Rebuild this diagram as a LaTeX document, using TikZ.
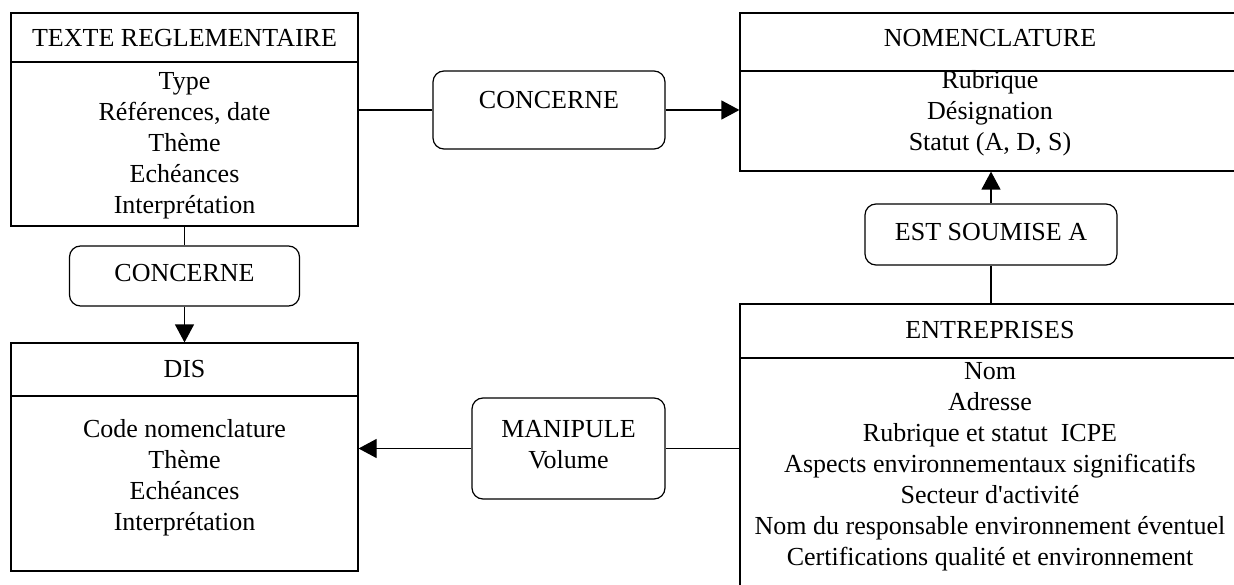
\documentclass[tikz,border=0pt]{standalone}
\usepackage{fontspec}
\setmainfont{Liberation Serif}
\usetikzlibrary{arrows.meta}
\begin{document}
\begin{tikzpicture}[x=1pt,y=-1pt,
  ent/.style={draw, line width=1.2pt, rectangle, inner sep=0pt},
  rel/.style={draw, line width=1.2pt, rounded corners=11pt, inner sep=0pt},
  txt/.style={align=center, inner sep=0pt, font=\fontsize{26}{31}\selectfont},
  conn/.style={line width=1.2pt},
  arr/.style={line width=1.2pt, -{Triangle[length=18pt,width=19pt]}}]
\useasboundingbox (0,0) rectangle (1234,585);
\clip (0,0) rectangle (1234,585);

% entity boxes
\node[ent, minimum width=347pt, minimum height=213pt] (texte) at (184.5,119.5) {};
\draw[conn] (texte.west |- 0,62) -- (texte.east |- 0,62);
\node[txt] (texteT) at (184.5,38) {TEXTE REGLEMENTAIRE};
\node[txt] (texteA) at (184.5,146) {Type\\Références, date\\Thème\\Echéances\\Interprétation};

\node[ent, minimum width=500pt, minimum height=158pt] (nomen) at (990,92) {};
\draw[conn] (nomen.west |- 0,71) -- (nomen.east |- 0,71);
\node[txt] (nomenT) at (990,38) {NOMENCLATURE};
\node[txt] (nomenA) at (990,113) {Rubrique\\Désignation\\Statut (A, D, S)};

\node[ent, minimum width=500pt, minimum height=340pt] (entr) at (990,474) {};
\draw[conn] (entr.west |- 0,358) -- (entr.east |- 0,358);
\node[txt] (entrT) at (990,330) {ENTREPRISES};
\node[txt] (entrA) at (990,466.5) {Nom\\Adresse\\Rubrique et statut\ \ ICPE\\Aspects environnementaux significatifs\\Secteur d\textquotesingle activité\\Nom du responsable environnement éventuel\\Certifications qualité et environnement};

\node[ent, minimum width=347pt, minimum height=228pt] (dis) at (184.5,457) {};
\draw[conn] (dis.west |- 0,396) -- (dis.east |- 0,396);
\node[txt] (disT) at (184.5,369) {DIS};
\node[txt] (disA) at (184.5,478) {Code nomenclature\\Thème\\Echéances\\Interprétation};

% relationship boxes
\node[rel, minimum width=232pt, minimum height=78pt] (c1) at (549,110) {};
\node[txt] (c1T) at (549,100) {CONCERNE};
\node[rel, minimum width=230pt, minimum height=60pt] (c2) at (184.5,276) {};
\node[txt] (c2T) at (184.5,273) {CONCERNE};
\node[rel, minimum width=252pt, minimum height=61pt] (soum) at (991,234.5) {};
\node[txt] (soumT) at (991,232) {EST SOUMISE A};
\node[rel, minimum width=193pt, minimum height=101pt] (manip) at (568.5,448.5) {};
\node[txt] (manipT) at (568.5,445) {MANIPULE\\Volume};

% connectors
\draw[conn] (texte.east |- c1.west) -- (c1.west);
\draw[arr] (c1.east) -- (nomen.west |- c1.east);
\draw[conn] (texte.south) -- (c2.north);
\draw[arr] (c2.south) -- (dis.north);
\draw[conn] (entr.north -| soum.south) -- (soum.south);
\draw[arr] (soum.north) -- (nomen.south -| soum.north);
\draw[conn] (entr.west |- manip.east) -- (manip.east);
\draw[arr] (manip.west) -- (dis.east |- manip.west);
\end{tikzpicture}
\end{document}
